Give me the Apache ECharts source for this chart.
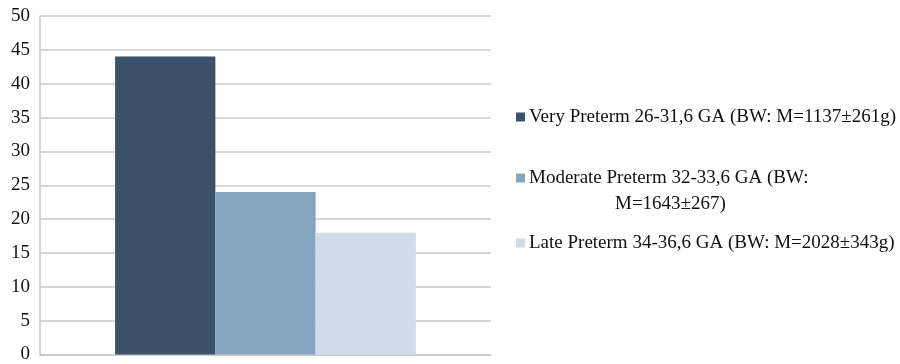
<!DOCTYPE html>
<html>
<head>
<meta charset="utf-8">
<script src="https://cdn.jsdelivr.net/npm/echarts@6/dist/echarts.min.js"></script>
<style>
  html, body { margin: 0; padding: 0; background: #fff; overflow: hidden; }
  #chart { width: 900px; height: 364px; }
</style>
</head>
<body>
<div id="chart"></div>
<script>
// Data
const categories = [''];
const seriesNames = [
  'Very Preterm 26-31,6 GA (BW: M=1137±261g)',
  'Moderate Preterm 32-33,6 GA (BW:',
  'Late Preterm 34-36,6 GA (BW: M=2028±343g)'
];
const seriesValues = [[44], [24], [18]];
const seriesColors = ['#3b5169', '#86a5bf', '#d0dde8'];
const legendContinuation = 'M=1643±267)';
const yTicks = { min: 0, max: 50, step: 5 };

const FONT = '"Liberation Serif", "Times New Roman", serif';
const gridColor = '#c9c9c9';
const textColor = '#111';

const chart = echarts.init(document.getElementById('chart'));

const legendTops = [107, 168, 233];

const option = {
  animation: false,
  grid: { left: 40, right: 409, top: 16, bottom: 4, containLabel: false },
  xAxis: {
    type: 'category',
    data: categories,
    axisLine: { show: true, lineStyle: { color: gridColor, width: 1.5 } },
    axisTick: { show: false },
    axisLabel: { show: false }
  },
  yAxis: {
    type: 'value',
    min: yTicks.min,
    max: yTicks.max,
    interval: yTicks.step,
    axisLine: { show: true, lineStyle: { color: gridColor, width: 1.5 } },
    axisTick: { show: false },
    axisLabel: { color: textColor, fontFamily: FONT, fontSize: 19, margin: 10 },
    splitLine: { show: true, lineStyle: { color: gridColor, width: 1.5 } }
  },
  legend: seriesNames.map((name, i) => ({
    data: [name],
    orient: 'vertical',
    left: 516,
    top: legendTops[i],
    padding: 0,
    icon: 'rect',
    itemWidth: 9,
    itemHeight: 9,
    itemGap: 0,
    selectedMode: false,
    textStyle: { color: textColor, fontFamily: FONT, fontSize: 19, lineHeight: 20, padding: [0, 0, 0, -1] }
  })),
  graphic: [{
    type: 'text',
    left: 615,
    top: 195,
    style: { text: legendContinuation, fill: textColor, font: '19px ' + FONT }
  }],
  series: seriesNames.map((name, i) => ({
    name: name,
    type: 'bar',
    data: seriesValues[i],
    barGap: 0,
    barCategoryGap: '33.3%',
    itemStyle: { color: seriesColors[i] }
  }))
};

chart.setOption(option);
</script>
</body>
</html>
